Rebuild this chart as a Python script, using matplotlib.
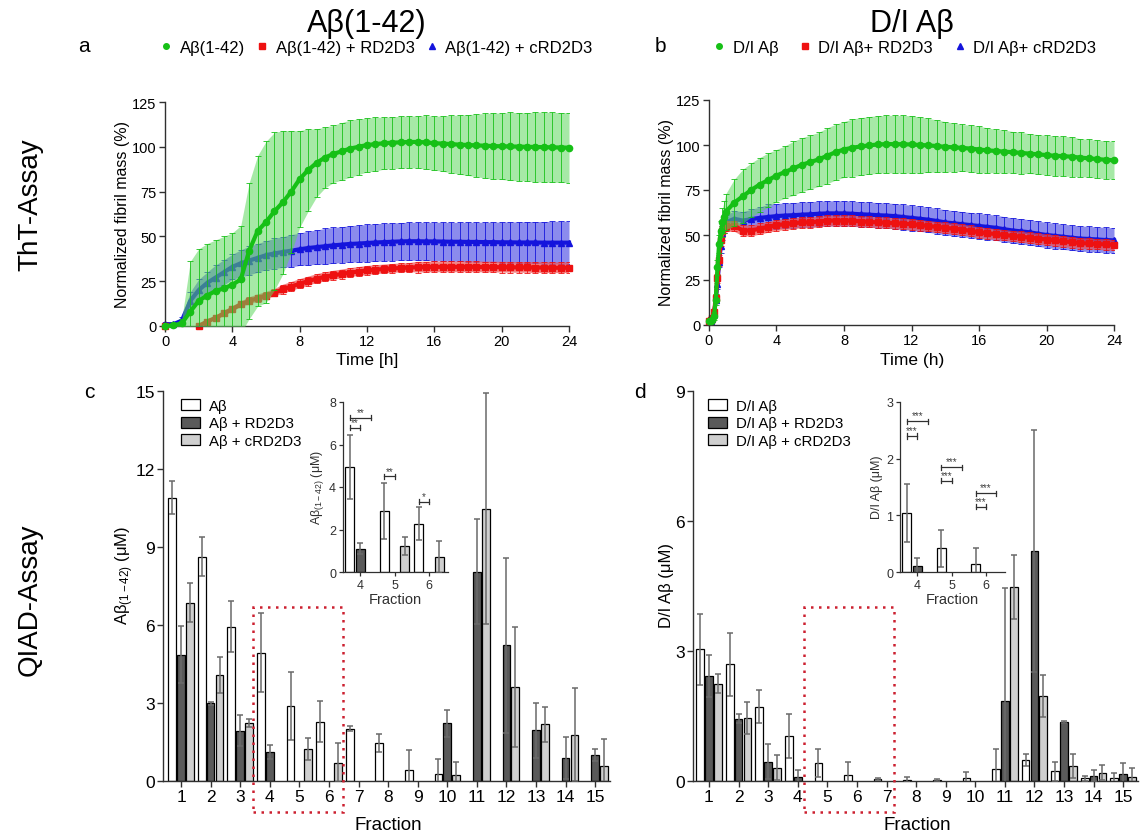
import numpy as np
import matplotlib
matplotlib.use('Agg')
import matplotlib.pyplot as plt
from matplotlib.lines import Line2D
from matplotlib.patches import Rectangle, Patch

plt.rcParams['font.family'] = ['Liberation Sans', 'DejaVu Sans']
plt.rcParams['mathtext.fontset'] = 'custom'
plt.rcParams['mathtext.rm'] = 'Liberation Sans'
plt.rcParams['mathtext.it'] = 'Liberation Sans:italic'
plt.rcParams['mathtext.bf'] = 'Liberation Sans:bold'

# ---------------- data: ThT time courses ----------------
time_a = [0, 0.5, 1, 1.5, 2, 2.5, 3, 3.5, 4, 4.5, 5, 5.5, 6, 6.5, 7, 7.5, 8, 8.5, 9, 9.5,
          10, 10.5, 11, 11.5, 12, 12.5, 13, 13.5, 14, 14.5, 15, 15.5, 16, 16.5, 17, 17.5,
          18, 18.5, 19, 19.5, 20, 20.5, 21, 21.5, 22, 22.5, 23, 23.5, 24]
ab_mean = [0, 0.3, 1.5, 8, 14, 17, 19.5, 21, 23, 26, 42, 53, 58, 64, 69, 75, 82, 87, 91, 94,
           96, 97.5, 99, 100, 101, 101.5, 102, 102.3, 102.5, 102.7, 102.7, 102.5, 102, 101.8,
           101.5, 101.2, 101, 100.8, 100.6, 100.4, 100.3, 100.2, 100.1, 100, 99.9, 99.8, 99.7,
           99.6, 99.5]
ab_sd = [0, 0.5, 2.5, 28, 29, 29, 28.5, 29, 29, 30, 38, 42, 45, 44, 40, 34, 27, 23, 19, 17,
         16, 16, 16, 15.5, 15, 15, 14.5, 14.5, 14.5, 14.5, 14.5, 15, 15, 15.5, 16, 16.5, 17,
         17.5, 18, 18.5, 18.5, 19, 19, 19, 19.5, 19.5, 19.5, 19.5, 19.5]
nan = float('nan')
abrd_mean = [0, nan, nan, nan, 0, 2.5, 4.5, 7, 9.5, 12, 14, 15.5, 17, 18.5, 20.5, 22, 23.6, 25,
             26.4, 27.4, 28.3, 29, 29.8, 30.4, 31, 31.4, 31.8, 32.1, 32.4, 32.6, 32.8, 32.9, 33,
             33, 33, 33, 33, 33, 32.9, 32.9, 32.8, 32.8, 32.7, 32.7, 32.6, 32.6, 32.5, 32.5, 32.5]
abrd_sd = [0, nan, nan, nan, 0.5, 1, 1, 1.5, 1.5, 1.5, 2, 2, 2, 2, 2.5, 2.5, 2.5, 2.5, 2.5, 2.5,
           2.5, 2.5, 2.5, 2.5, 2.5, 2.5, 2.5, 2.5, 2.5, 2.5, 3, 3, 3, 3, 3, 3, 3, 3, 3, 3, 3, 3,
           3, 3, 3, 3, 3, 3, 3]
abcrd_mean = [1, 1, 3, 14, 20, 24, 27, 30, 33, 35, 36.5, 38, 39.5, 40.5, 41.3, 42, 42.8, 43.5,
              44, 44.5, 45, 45.4, 45.8, 46, 46.3, 46.6, 46.8, 47, 47.2, 47.3, 47.3, 47.2, 47.2,
              47.1, 47, 47, 46.9, 46.9, 46.8, 46.8, 46.7, 46.7, 46.6, 46.6, 46.6, 46.5, 46.5,
              46.5, 46.5]
abcrd_sd = [1, 1, 2, 5, 6, 6, 7, 7, 7, 7.5, 8, 8, 8, 8.5, 8.5, 9, 9, 9.5, 9.5, 10, 10, 10, 10.2,
            10.3, 10.4, 10.5, 10.5, 10.5, 10.5, 10.6, 10.6, 10.6, 10.7, 10.8, 10.8, 10.9, 11, 11,
            11.1, 11.2, 11.3, 11.4, 11.5, 11.6, 11.7, 11.8, 11.9, 12, 12]

time_b = [0, 0.1, 0.2, 0.3, 0.4, 0.5, 0.6, 0.7, 0.8, 0.9, 1, 1.5, 2, 2.5, 3, 3.5, 4, 4.5, 5,
          5.5, 6, 6.5, 7, 7.5, 8, 8.5, 9, 9.5, 10, 10.5, 11, 11.5, 12, 12.5, 13, 13.5, 14, 14.5,
          15, 15.5, 16, 16.5, 17, 17.5, 18, 18.5, 19, 19.5, 20, 20.5, 21, 21.5, 22, 22.5, 23,
          23.5, 24]
di_mean = [2, 2.5, 3, 5, 14, 32, 45, 52, 57, 60, 63, 68, 71.5, 75, 78, 80.5, 83, 85, 87, 89,
           90.5, 92, 94, 96, 97.5, 98.5, 99.2, 99.8, 100.3, 100.5, 100.5, 100.4, 100.3, 100,
           99.8, 99.4, 99, 98.7, 98.4, 98, 97.5, 97, 96.7, 96.3, 96, 95.6, 95.2, 94.8, 94.4, 94,
           93.8, 93.5, 93, 92.6, 92.2, 91.8, 91.5]
di_sd = [1, 1, 1, 2, 3, 4, 5, 6, 8, 9, 10, 13, 15, 15, 15, 15, 14.5, 14.5, 15, 15, 15, 15, 15.5,
         15.5, 15.5, 16, 16, 16, 16, 16, 16, 16, 16, 15.5, 15, 14.5, 14, 13.5, 13, 13, 13, 12.5,
         12, 12, 11.5, 11.5, 11, 11, 11, 11, 11, 11, 10.5, 10.5, 10.5, 10.5, 10.5]
dird_mean = [2, 3, 4, 7, 15, 26, 36, 47, 52, 54, 55, 55, 52.5, 52.5, 53.5, 54.5, 55.5, 56, 56.5,
             57, 57, 57.5, 58, 58, 58, 58, 57.5, 57.3, 57, 56.8, 56.5, 56.3, 56, 55.5, 55, 54.5,
             54, 53.5, 53, 52.3, 51.5, 51, 50.5, 50, 49.5, 49, 48.5, 48, 47.5, 47, 46.5, 46, 45.5,
             45.3, 45, 44.8, 44.5]
dird_sd = [1, 1, 1, 1.5, 2, 2.5, 3, 3, 3, 3, 3, 3, 3, 3, 3, 3, 3, 3, 3, 3, 3, 3, 3, 3, 3, 3, 3,
           3, 3, 3, 3, 3, 3, 3, 3, 3, 3, 3, 3, 3, 3, 3, 3, 3, 3, 3, 3, 3, 3, 3, 3, 3, 3, 3, 3, 3, 3]
dicrd_mean = [2, 2.5, 3.5, 6, 14, 23, 35, 44, 51, 55, 57, 59, 58, 58.8, 59.5, 60, 60.5, 60.8, 61,
              61.3, 61.5, 61.8, 62, 62, 62, 61.8, 61.5, 61.3, 61, 60.8, 60.5, 60, 59.5, 59, 58.5,
              57.8, 57, 56.5, 56, 55.5, 55, 54.5, 54, 53.2, 52.5, 52, 51.5, 50.7, 50, 49.5, 49,
              48.5, 48, 47.8, 47.5, 47.2, 47]
dicrd_sd = [1, 1, 1, 2, 2, 3, 3, 4, 4, 4, 4, 4.5, 5, 5.5, 6, 7, 7, 7, 7, 7, 7, 7, 7, 7, 7, 7, 7,
            7, 7, 7, 7, 7, 7, 7, 7, 7, 7, 7, 7, 7, 7, 7, 7, 7, 7, 7, 7, 7, 7, 7, 7, 7, 7, 7, 7, 7, 7]

# ---------------- data: QIAD fractions ----------------
fractions = [1, 2, 3, 4, 5, 6, 7, 8, 9, 10, 11, 12, 13, 14, 15]
c_ab = [10.9, 8.63, 5.94, 4.94, 2.88, 2.28, 2.01, 1.47, 0.42, 0.28, 0, 0, 0, 0, 0]
c_ab_err = [0.64, 0.75, 0.97, 1.52, 1.31, 0.78, 0.1, 0.35, 0.77, 0.55, 0, 0, 0, 0, 0]
c_rd = [4.86, 2.99, 1.94, 1.1, 0, 0, 0, 0, 0, 2.22, 8.04, 5.22, 1.95, 0.87, 1.0]
c_rd_err = [1.1, 0.06, 0.6, 0.27, 0, 0, 0, 0, 0, 0.51, 2.02, 3.37, 1.05, 0.81, 0.22]
c_crd = [6.86, 4.08, 2.24, 0, 1.24, 0.71, 0, 0, 0, 0.24, 10.47, 3.63, 2.18, 1.78, 0.59]
c_crd_err = [0.74, 0.7, 0.16, 0, 0.43, 0.76, 0, 0, 0, 0.49, 4.45, 2.31, 0.68, 1.78, 1.03]

d_ab = [3.04, 2.69, 1.71, 1.04, 0.42, 0.14, 0.04, 0.03, 0.02, 0.06, 0.28, 0.48, 0.22, 0.06, 0.06]
d_ab_err = [0.82, 0.73, 0.38, 0.51, 0.33, 0.29, 0.02, 0.06, 0.03, 0.15, 0.47, 0.14, 0.23, 0.06, 0.13]
d_rd = [2.42, 1.44, 0.45, 0.1, 0, 0, 0, 0, 0, 0, 1.84, 5.31, 1.36, 0.12, 0.17]
d_rd_err = [0.48, 0.1, 0.41, 0.15, 0, 0, 0, 0, 0, 0, 2.62, 2.79, 0.02, 0.13, 0.25]
d_crd = [2.25, 1.46, 0.31, 0, 0, 0, 0, 0, 0, 0, 4.48, 1.96, 0.35, 0.19, 0.1]
d_crd_err = [0.23, 0.37, 0.29, 0, 0, 0, 0, 0, 0, 0, 0.74, 0.49, 0.27, 0.17, 0.21]

# significance brackets in insets: (x start, x end, height, label)
sig_c = [(3.7, 4.3, 7.25, '**'), (3.7, 4.0, 6.78, '**'), (4.7, 5.0, 4.5, '**'), (5.7, 6.0, 3.3, '*')]
sig_d = [(3.7, 4.3, 2.66, '***'), (3.7, 4.0, 2.40, '***'), (4.7, 5.3, 1.85, '***'),
         (4.7, 5.0, 1.61, '***'), (5.7, 6.3, 1.39, '***'), (5.7, 6.0, 1.15, '***')]

# ---------------- figure ----------------
W, H = 1141, 837
fig = plt.figure(figsize=(W / 100, H / 100), dpi=100)

def add_ax(l, t, r, b):
    return fig.add_axes([l / W, 1 - b / H, (r - l) / W, (b - t) / H])

def style(ax, color='#303030', lw=1.0, length=4):
    for s in ['top', 'right']:
        ax.spines[s].set_visible(False)
    for s in ['left', 'bottom']:
        ax.spines[s].set_color(color)
        ax.spines[s].set_linewidth(lw)
    ax.tick_params(direction='out', length=length, width=lw, color=color, pad=2)

def ftext(x, y, s, **kw):
    kw.setdefault('ha', 'center')
    kw.setdefault('va', 'center')
    fig.text(x / W, 1 - y / H, s, **kw)

GREEN = '#16c016'
GREEN_F = '#5ed85e'
RED = '#ee1111'
RED_F = '#f05050'
BLUE = '#1414dc'
BLUE_F = '#5a5ae6'

def series(ax, t, m, s, color, fcol, marker, ms, z, falpha):
    t = np.array(t, float)
    m = np.array(m, float)
    s = np.array(s, float)
    ax.fill_between(t, m - s, m + s, color=fcol, alpha=falpha, lw=0, zorder=z)
    ax.errorbar(t, m, yerr=s, fmt='none', ecolor=color, elinewidth=0.7, capsize=2,
                capthick=0.7, alpha=0.85, zorder=z + 0.1)
    ax.plot(t, m, color=color, lw=3, marker=marker, ms=ms, mec=color, mfc=color,
            zorder=z + 0.2, clip_on=False)

# ----- panel a -----
axa = add_ax(165, 103, 569, 327)
series(axa, time_a, abcrd_mean, abcrd_sd, BLUE, BLUE_F, '^', 4.5, 1, 0.7)
series(axa, time_a, abrd_mean, abrd_sd, RED, RED_F, 's', 4.5, 2, 0.7)
series(axa, time_a, ab_mean, ab_sd, GREEN, GREEN_F, 'o', 4.5, 3, 0.55)
axa.set_xlim(0, 24)
axa.set_ylim(0, 125)
axa.set_xticks([0, 4, 8, 12, 16, 20, 24])
axa.set_yticks([0, 25, 50, 75, 100, 125])
style(axa)
axa.tick_params(labelsize=10.5)

# ----- panel b -----
axb = add_ax(709, 101, 1114, 326)
series(axb, time_b, dicrd_mean, dicrd_sd, BLUE, BLUE_F, '^', 4.5, 1, 0.7)
series(axb, time_b, dird_mean, dird_sd, RED, RED_F, 's', 4.5, 2, 0.7)
series(axb, time_b, di_mean, di_sd, GREEN, GREEN_F, 'o', 4.5, 3, 0.55)
axb.set_xlim(0, 24)
axb.set_ylim(0, 125)
axb.set_xticks([0, 4, 8, 12, 16, 20, 24])
axb.set_yticks([0, 25, 50, 75, 100, 125])
style(axb)
axb.tick_params(labelsize=10.5)

# legends of a and b
def tc_handles():
    return [Line2D([], [], ls='none', marker='o', color=GREEN, ms=4),
            Line2D([], [], ls='none', marker='s', color=RED, ms=4),
            Line2D([], [], ls='none', marker='^', color=BLUE, ms=4)]

fig.legend(tc_handles(), ['Aβ(1-42)', 'Aβ(1-42) + RD2D3', 'Aβ(1-42) + cRD2D3'],
           loc='center left', bbox_to_anchor=(158 / W, 1 - 48 / H), ncol=3, frameon=False,
           fontsize=12, handlelength=1.0, handletextpad=0.3, columnspacing=0.55,
           borderpad=0, borderaxespad=0)
fig.legend(tc_handles(), ['D/I Aβ', 'D/I Aβ+ RD2D3', 'D/I Aβ+ cRD2D3'],
           loc='center left', bbox_to_anchor=(711 / W, 1 - 48 / H), ncol=3, frameon=False,
           fontsize=12, handlelength=1.0, handletextpad=0.3, columnspacing=1.1,
           borderpad=0, borderaxespad=0)

# ----- bar helpers -----
BAR_COLORS = ['white', '#5a5a5a', '#cfcfcf']
OFFS = [-0.3, 0.0, 0.3]
BW = 0.26

def bars(ax, x, vals, errs, off, fc, capsize=2.2):
    x = np.array(x, float) + off
    v = np.array(vals, float)
    e = np.array(errs, float)
    keep = (v > 0) | (e > 0)
    ax.bar(x[keep], v[keep], width=BW, color=fc, edgecolor='black', linewidth=0.9, zorder=2)
    ax.errorbar(x[keep], v[keep], yerr=e[keep], fmt='none', ecolor='#6a6a6a', elinewidth=1.1,
                capsize=capsize, capthick=1.1, zorder=3)

# ----- panel c -----
axc = add_ax(163, 392, 610, 782)
for vals, errs, off, fc in zip([c_ab, c_rd, c_crd], [c_ab_err, c_rd_err, c_crd_err], OFFS, BAR_COLORS):
    bars(axc, fractions, vals, errs, off, fc)
axc.set_xlim(0.39, 15.5)
axc.set_ylim(0, 15)
axc.set_xticks(fractions)
axc.set_yticks([0, 3, 6, 9, 12, 15])
style(axc)
axc.tick_params(labelsize=12.5)
axc.legend(handles=[Patch(fc=c, ec='black', lw=0.9) for c in BAR_COLORS],
           labels=['Aβ', 'Aβ + RD2D3', 'Aβ + cRD2D3'], loc='upper left',
           bbox_to_anchor=(181 / W, 1 - 400 / H), bbox_transform=fig.transFigure,
           frameon=False, fontsize=10.8, handlelength=1.25, handleheight=0.75,
           handletextpad=0.6, labelspacing=0.22, borderpad=0, borderaxespad=0)

# ----- panel d -----
axd = add_ax(693, 392, 1138, 782)
for vals, errs, off, fc in zip([d_ab, d_rd, d_crd], [d_ab_err, d_rd_err, d_crd_err], OFFS, BAR_COLORS):
    bars(axd, fractions, vals, errs, off, fc)
axd.set_xlim(0.46, 15.5)
axd.set_ylim(0, 9)
axd.set_xticks(fractions)
axd.set_yticks([0, 3, 6, 9])
style(axd)
axd.tick_params(labelsize=12.5)
axd.legend(handles=[Patch(fc=c, ec='black', lw=0.9) for c in BAR_COLORS],
           labels=['D/I Aβ', 'D/I Aβ + RD2D3', 'D/I Aβ + cRD2D3'], loc='upper left',
           bbox_to_anchor=(708 / W, 1 - 400 / H), bbox_transform=fig.transFigure,
           frameon=False, fontsize=10.8, handlelength=1.25, handleheight=0.75,
           handletextpad=0.6, labelspacing=0.22, borderpad=0, borderaxespad=0)

# ----- insets -----
def inset(l, t, r, b, ab, aberr, rd, rderr, crd, crderr, ymax, yticks, sig, tick_h):
    ax = add_ax(l, t, r, b)
    ax.patch.set_alpha(0)
    fr = fractions[3:6]
    for vals, errs, off, fc in zip([ab[3:6], rd[3:6], crd[3:6]],
                                   [aberr[3:6], rderr[3:6], crderr[3:6]], OFFS, BAR_COLORS):
        bars(ax, fr, vals, errs, off, fc, capsize=2.0)
    ax.set_xlim(3.5, 6.55)
    ax.set_ylim(0, ymax)
    ax.set_xticks(fr)
    ax.set_yticks(yticks)
    style(ax, lw=0.9, length=3)
    ax.tick_params(labelsize=9, colors='#303030')
    for x0, x1, y, lab in sig:
        ax.plot([x0, x1], [y, y], color='#303030', lw=0.9, clip_on=False)
        ax.plot([x0, x0], [y - tick_h, y + tick_h], color='#303030', lw=0.9, clip_on=False)
        ax.plot([x1, x1], [y - tick_h, y + tick_h], color='#303030', lw=0.9, clip_on=False)
        ax.text((x0 + x1) / 2, y + tick_h * 0.3, lab, ha='center', va='bottom', fontsize=7,
                color='#404040')
    return ax

inset(343, 403, 448, 573, c_ab, c_ab_err, c_rd, c_rd_err, c_crd, c_crd_err, 8,
      [0, 2, 4, 6, 8], sig_c, 0.12)
inset(900, 403, 1005, 573, d_ab, d_ab_err, d_rd, d_rd_err, d_crd, d_crd_err, 3,
      [0, 1, 2, 3], sig_d, 0.045)

# dotted red boxes
for x0 in (253, 804):
    fig.patches.append(Rectangle((x0 / W, 1 - 813 / H), 90 / W, 205 / H,
                                 transform=fig.transFigure, fill=False, ec='#cc2030',
                                 lw=1.8, ls=(0, (1, 2.2)), zorder=10))

# ----- text -----
ftext(367, 24, 'Aβ(1-42)', fontsize=22)
ftext(912, 24, 'D/I Aβ', fontsize=22)
ftext(30, 205, 'ThT-Assay', fontsize=20, rotation=90)
ftext(30, 600, 'QIAD-Assay', fontsize=20, rotation=90)
ftext(84, 46, 'a', fontsize=15)
ftext(660, 46, 'b', fontsize=15)
ftext(89, 392, 'c', fontsize=15)
ftext(640, 392, 'd', fontsize=15)

ftext(122, 215, 'Normalized fibril mass (%)', fontsize=11.5, rotation=90)
ftext(666, 213, 'Normalized fibril mass (%)', fontsize=11.5, rotation=90)
ftext(367, 361, 'Time [h]', fontsize=12.5)
ftext(912, 361, 'Time (h)', fontsize=12.5)

ftext(125, 575, 'Aβ$_{(1-42)}$ (μM)', fontsize=12, rotation=90)
ftext(666, 585, 'D/I Aβ (μM)', fontsize=12, rotation=90)
ftext(388, 826, 'Fraction', fontsize=13.5)
ftext(917, 826, 'Fraction', fontsize=13.5)

ftext(318, 487, 'Aβ$_{(1-42)}$ (μM)', fontsize=9, rotation=90, color='#303030')
ftext(877, 487, 'D/I Aβ (μM)', fontsize=9, rotation=90, color='#303030')
ftext(395, 600, 'Fraction', fontsize=10.5, color='#303030')
ftext(952, 600, 'Fraction', fontsize=10.5, color='#303030')

fig.savefig('out.png', dpi=100)
